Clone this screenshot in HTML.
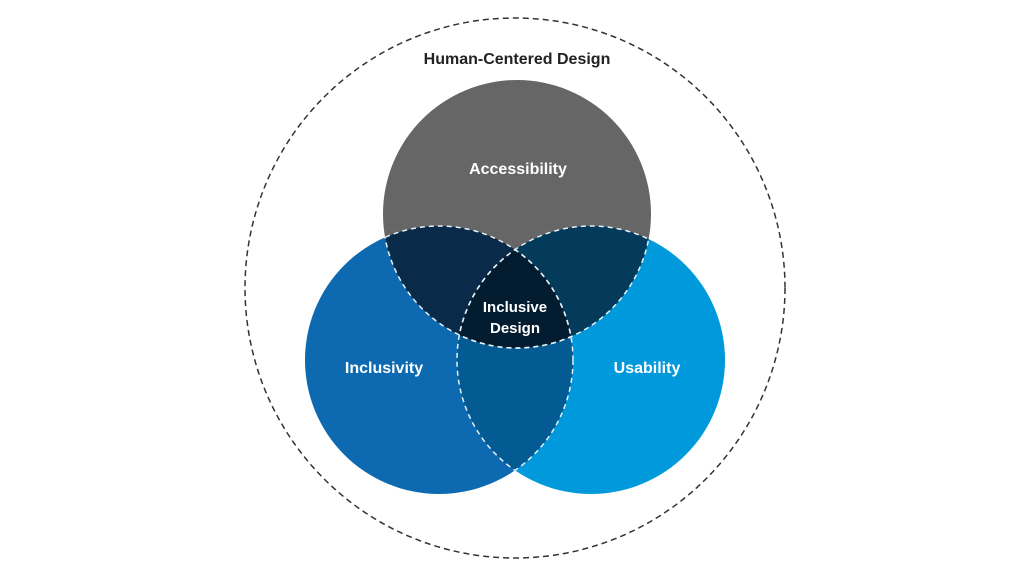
<!DOCTYPE html>
<html><head><style>html,body{margin:0;background:#fff;}svg{display:block}</style></head>
<body>
<svg width="1024" height="576" viewBox="0 0 1024 576" xmlns="http://www.w3.org/2000/svg" font-family="Liberation Sans, sans-serif" font-weight="bold">
<defs>
<clipPath id="cT"><circle cx="517" cy="214" r="134"/></clipPath>
<clipPath id="cL"><circle cx="439" cy="360" r="134"/></clipPath>
<clipPath id="cR"><circle cx="591" cy="360" r="134"/></clipPath>
</defs>
<circle cx="515" cy="288" r="270" fill="none" stroke="#333" stroke-width="1.5" stroke-dasharray="6,4"/>
<text x="517" y="64" text-anchor="middle" font-size="16" fill="#222">Human-Centered Design</text>
<circle cx="517" cy="214" r="134" fill="#666666"/>
<circle cx="439" cy="360" r="134" fill="#0d6ab1"/>
<circle cx="591" cy="360" r="134" fill="#0099db"/>
<g clip-path="url(#cT)"><circle cx="439" cy="360" r="134" fill="#0a2a4a"/><circle cx="591" cy="360" r="134" fill="#043a5a"/></g>
<g clip-path="url(#cL)"><circle cx="591" cy="360" r="134" fill="#045a93"/></g>
<g clip-path="url(#cL)"><g clip-path="url(#cR)"><circle cx="517" cy="214" r="134" fill="#041c30"/></g></g>
<g fill="none" stroke="#e8eef4" stroke-width="1.5" stroke-dasharray="5,4">
<g clip-path="url(#cL)"><circle cx="517" cy="214" r="134"/><circle cx="591" cy="360" r="134"/></g>
<g clip-path="url(#cR)"><circle cx="517" cy="214" r="134"/></g>
<g clip-path="url(#cT)"><circle cx="439" cy="360" r="134"/><circle cx="591" cy="360" r="134"/></g>
<g clip-path="url(#cR)"><circle cx="439" cy="360" r="134"/></g>
</g>
<g fill="#fff" font-size="16" text-anchor="middle">
<text x="518" y="174">Accessibility</text>
<text x="384" y="373">Inclusivity</text>
<text x="647" y="373">Usability</text>
<text x="515" y="312" font-size="15">Inclusive</text>
<text x="515" y="333" font-size="15">Design</text>
</g>
</svg>
</body></html>
